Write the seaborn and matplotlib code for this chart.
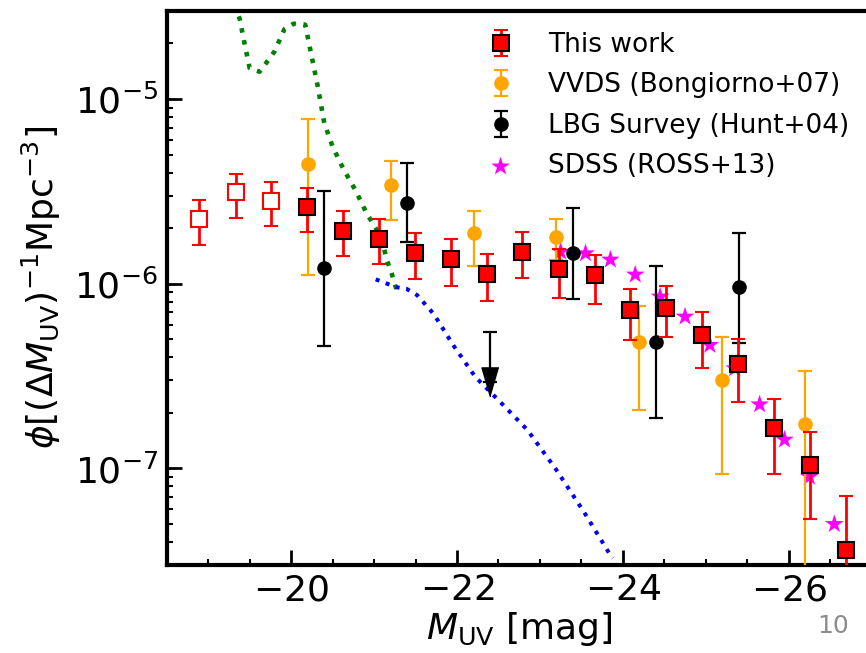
import numpy as np
import pandas as pd
import seaborn as sns
import matplotlib
matplotlib.use('Agg')
from matplotlib import pyplot as plt

# --- This work (red squares); first three bins are open squares
M_open = [-18.89, -19.33, -19.76]
phi_open = [2.24e-6, 3.12e-6, 2.81e-6]
phi_open_hi = [2.84e-6, 3.95e-6, 3.56e-6]
phi_open_lo = [1.62e-6, 2.28e-6, 2.06e-6]

M_this = [-20.19, -20.63, -21.06, -21.49, -21.93, -22.36, -22.79, -23.23,
          -23.66, -24.09, -24.52, -24.96, -25.39, -25.82, -26.26, -26.69]
phi_this = [2.62e-6, 1.94e-6, 1.75e-6, 1.47e-6, 1.36e-6, 1.13e-6, 1.49e-6, 1.20e-6,
            1.11e-6, 7.18e-7, 7.41e-7, 5.27e-7, 3.66e-7, 1.65e-7, 1.05e-7, 3.61e-8]
phi_this_hi = [3.32e-6, 2.47e-6, 2.24e-6, 1.89e-6, 1.75e-6, 1.45e-6, 1.91e-6, 1.55e-6,
               1.44e-6, 9.39e-7, 9.68e-7, 7.03e-7, 5.02e-7, 2.38e-7, 1.58e-7, 7.11e-8]
phi_this_lo = [1.91e-6, 1.42e-6, 1.28e-6, 1.06e-6, 9.73e-7, 8.09e-7, 1.07e-6, 8.41e-7,
               7.76e-7, 4.96e-7, 5.15e-7, 3.51e-7, 2.28e-7, 9.31e-8, 5.31e-8, 1.0e-8]

# --- VVDS (Bongiorno+07)
M_vvds = [-20.2, -21.2, -22.2, -23.2, -24.2, -25.2, -26.2]
phi_vvds = [4.44e-6, 3.43e-6, 1.88e-6, 1.79e-6, 4.85e-7, 3.01e-7, 1.73e-7]
phi_vvds_hi = [7.80e-6, 4.63e-6, 2.48e-6, 2.24e-6, 7.60e-7, 5.13e-7, 3.36e-7]
phi_vvds_lo = [1.11e-6, 2.21e-6, 1.25e-6, 1.35e-6, 2.08e-7, 9.31e-8, 1.0e-8]

# --- LBG Survey (Hunt+04)
M_lbg = [-20.4, -21.4, -23.4, -24.4, -25.4]
phi_lbg = [1.21e-6, 2.75e-6, 1.47e-6, 4.84e-7, 9.58e-7]
phi_lbg_hi = [3.17e-6, 4.50e-6, 2.58e-6, 1.25e-6, 1.89e-6]
phi_lbg_lo = [4.61e-7, 1.69e-6, 8.27e-7, 1.87e-7, 4.80e-7]
M_lbg_ul = [-22.4]
phi_lbg_ul = [2.94e-7]
phi_lbg_ul_hi = [5.5e-7]

# --- SDSS (ROSS+13)
M_sdss = [-23.25, -23.55, -23.85, -24.15, -24.45, -24.75,
          -25.05, -25.35, -25.65, -25.95, -26.25, -26.55]
phi_sdss = [1.49e-6, 1.46e-6, 1.35e-6, 1.12e-6, 8.51e-7, 6.63e-7,
            4.66e-7, 3.48e-7, 2.22e-7, 1.43e-7, 9.0e-8, 4.99e-8]

# --- model curves
M_green = [-19.32, -19.38, -19.44, -19.50, -19.62, -19.71, -19.80, -19.92, -20.03,
           -20.17, -20.23, -20.32, -20.40, -20.50, -20.63, -20.78, -20.91, -21.09,
           -21.15, -21.21, -21.29]
logphi_green = [-4.49, -4.566, -4.702, -4.832, -4.852, -4.798, -4.742, -4.621, -4.592,
                -4.597, -4.729, -4.928, -5.130, -5.257, -5.378, -5.497, -5.618, -5.750,
                -5.866, -5.940, -6.061]
M_blue = [-21.02, -21.27, -21.39, -21.52, -21.72, -21.96, -22.22, -22.53, -22.85,
          -23.20, -23.53, -23.85, -23.88]
logphi_blue = [-5.976, -6.019, -6.027, -6.062, -6.164, -6.336, -6.504, -6.644, -6.792,
               -7.009, -7.235, -7.470, -7.486]


def asym(y, hi, lo):
    y = np.array(y)
    return [y - np.array(lo), np.array(hi) - y]


sns.set_style('ticks')
plt.rcParams['font.family'] = ['DejaVu Sans']
plt.rcParams['mathtext.fontset'] = 'dejavusans'
for k in ['text.color', 'axes.labelcolor', 'xtick.color', 'ytick.color', 'axes.edgecolor']:
    plt.rcParams[k] = 'black'

fig = plt.figure(figsize=(8.66, 6.53), dpi=100)
ax = fig.add_axes([0.1925, 0.1348, 0.814, 0.8484])

df_green = pd.DataFrame({'M': M_green, 'phi': 10 ** np.array(logphi_green)})
df_blue = pd.DataFrame({'M': M_blue, 'phi': 10 ** np.array(logphi_blue)})
sns.lineplot(data=df_green, x='M', y='phi', ax=ax, color='green', lw=3.3,
             linestyle=':', sort=False, zorder=1)
sns.lineplot(data=df_blue, x='M', y='phi', ax=ax, color='blue', lw=2.9,
             linestyle=':', sort=False, zorder=1)

df_sdss = pd.DataFrame({'M': M_sdss, 'phi': phi_sdss})
sns.scatterplot(data=df_sdss, x='M', y='phi', ax=ax, marker='*', s=200,
                color='magenta', edgecolor='none', zorder=2)
h_sdss = ax.collections[-1]

h_vvds = ax.errorbar(M_vvds, phi_vvds, yerr=asym(phi_vvds, phi_vvds_hi, phi_vvds_lo),
                     fmt='o', color='orange', ms=9.5, elinewidth=1.6, capsize=5,
                     capthick=1.6, zorder=3)
h_lbg = ax.errorbar(M_lbg, phi_lbg, yerr=asym(phi_lbg, phi_lbg_hi, phi_lbg_lo),
                    fmt='o', color='black', ms=9.5, elinewidth=1.6, capsize=5,
                    capthick=1.6, zorder=3)
ul_y = np.array(phi_lbg_ul)
tri = [(0, -1), (-0.58, 1), (0.58, 1)]
ax.errorbar(M_lbg_ul, phi_lbg_ul, yerr=[ul_y * 0, np.array(phi_lbg_ul_hi) - ul_y],
            fmt='none', ecolor='black', elinewidth=1.6, capsize=5, capthick=1.6, zorder=3)
ax.plot(M_lbg_ul, phi_lbg_ul, marker=tri, ms=21, color='black', ls='none', zorder=3)

ax.errorbar(M_open, phi_open, yerr=asym(phi_open, phi_open_hi, phi_open_lo),
            fmt='s', color='red', mfc='white', mec='red', ms=11, mew=1.5,
            elinewidth=2, capsize=5, capthick=2, zorder=4)
h_this = ax.errorbar(M_this, phi_this, yerr=asym(phi_this, phi_this_hi, phi_this_lo),
                     fmt='s', color='red', mfc='red', mec='black', ms=11, mew=1.5,
                     ecolor='red', elinewidth=2, capsize=5, capthick=2, zorder=4)

ax.set_yscale('log')
ax.set_xlim(-18.5, -27)
ax.set_ylim(3e-8, 3e-5)
ax.set_xticks([-20, -22, -24, -26])
ax.set_xticks(np.arange(-19, -27, -0.5), minor=True)
ax.set_xticklabels(['$-20$', '$-22$', '$-24$', '$-26$'])

for s in ax.spines.values():
    s.set_linewidth(3)
    s.set_color('black')
ax.tick_params(which='major', direction='in', length=10.5, width=2, labelsize=26, pad=6,
               color='black', labelcolor='black')
ax.tick_params(which='minor', direction='in', length=4.5, width=1.5, color='black')

ax.set_xlabel(r'$M_{\rm UV}$ [mag]', fontsize=26, labelpad=2, color='black')
ax.set_ylabel(r'$\phi[(\Delta M_{\rm UV})^{-1}{\rm Mpc}^{-3}]$', fontsize=26,
              labelpad=8, color='black')

ax.legend([h_this, h_vvds, h_lbg, h_sdss],
          ['This work', 'VVDS (Bongiorno+07)', 'LBG Survey (Hunt+04)', 'SDSS (ROSS+13)'],
          loc='upper right', frameon=False, fontsize=19, labelspacing=0.55,
          numpoints=1, borderaxespad=0.5, bbox_to_anchor=(1.002, 1.005),
          labelcolor='black')

fig.text(0.962, 0.041, '10', color='#8c8c8c', fontsize=18, ha='center', va='center')

fig.savefig('out.png', dpi=100)
